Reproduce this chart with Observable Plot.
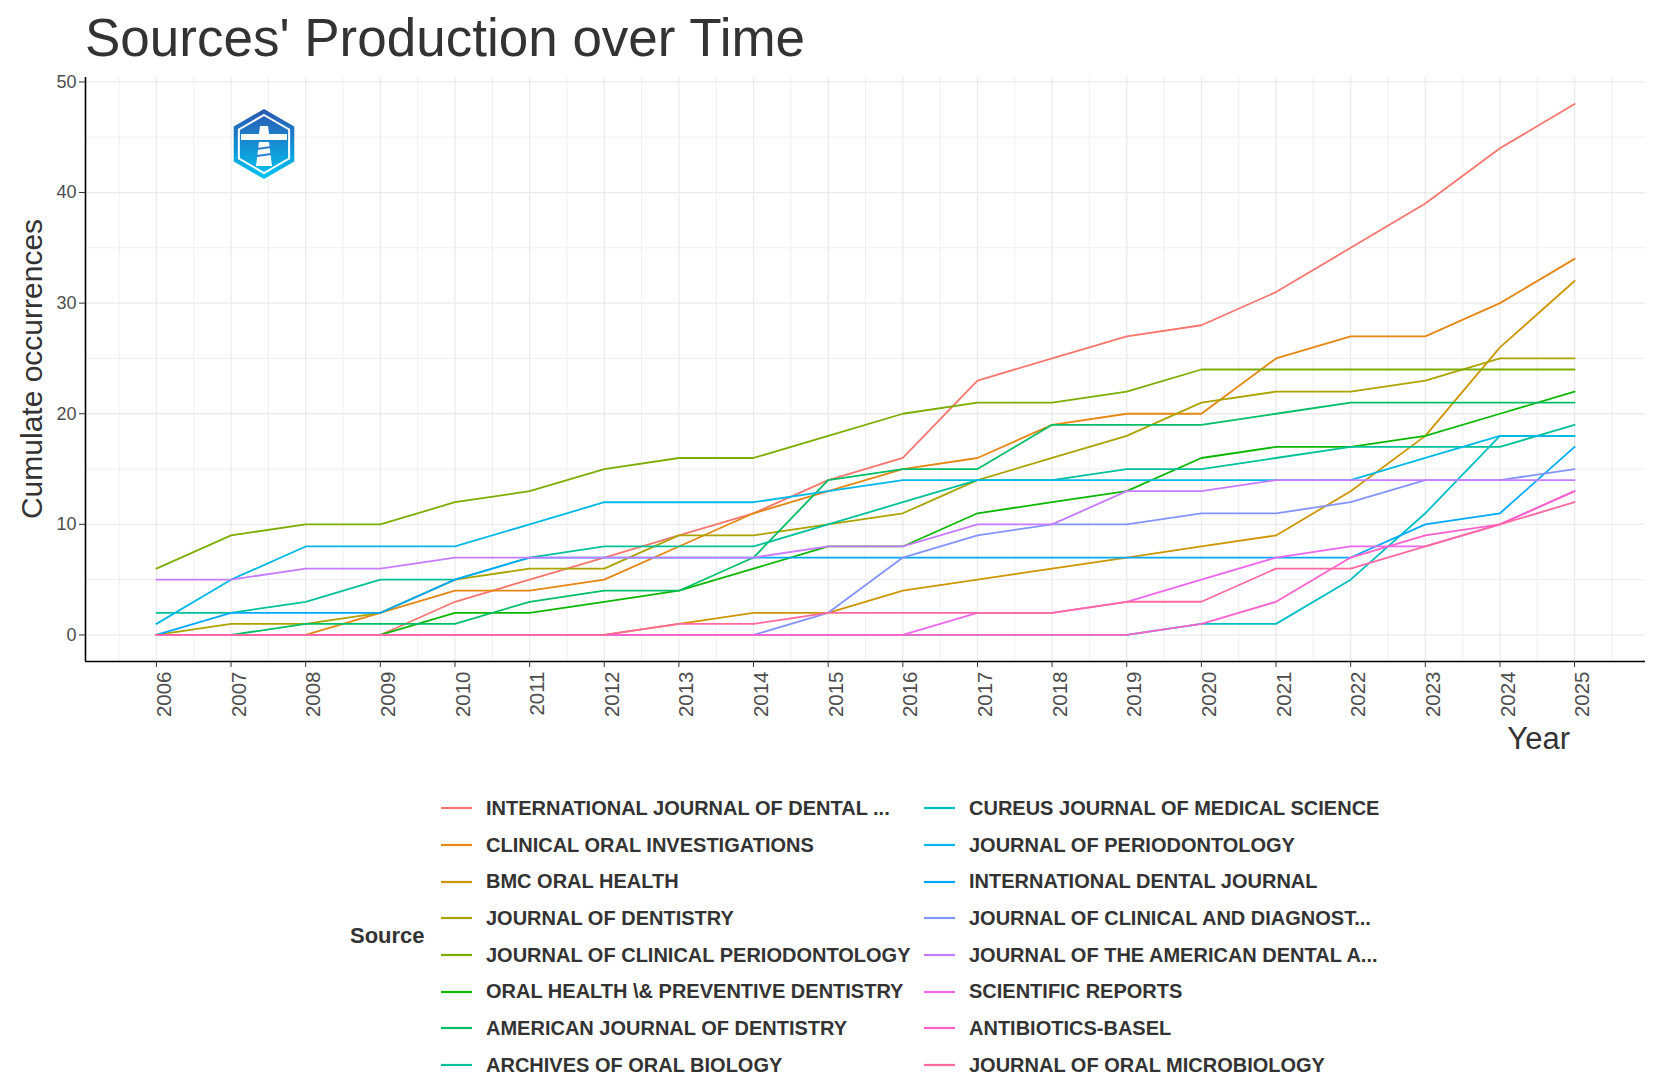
<!DOCTYPE html>
<html>
<head>
<meta charset="utf-8">
<script src="https://cdn.jsdelivr.net/npm/d3@7"></script>
<script src="https://cdn.jsdelivr.net/npm/@observablehq/plot@0.6"></script>
<style>
  html, body { margin: 0; padding: 0; background: #ffffff; }
  #page { position: relative; width: 1665px; height: 1090px; overflow: hidden; background: #fff;
          font-family: "Liberation Sans", Arial, "DejaVu Sans", sans-serif; }
  #chart { position: absolute; left: 0; top: 0; }
  #overlay { position: absolute; left: 0; top: 0; pointer-events: none; }
  #legendTitle { position: absolute; left: 350px; top: 923px; font-weight: bold; font-size: 22px; color: #333; }
  #legend { position: absolute; left: 441px; top: 790px; display: grid;
            grid-template-columns: 483px 483px; grid-template-rows: repeat(8, 36.7px);
            grid-auto-flow: column; }
  .item { display: flex; align-items: center; }
  .item svg { flex: none; }
  .item span { margin-left: 14px; font-weight: bold; font-size: 20px; color: #333; white-space: nowrap; }
</style>
</head>
<body>
<div id="page">
  <div id="chart"></div>
  <svg id="overlay" width="1665" height="1090"></svg>
  <div id="legendTitle">Source</div>
  <div id="legend"></div>
</div>
<script>
// ---- data ----
const years = [2006, 2007, 2008, 2009, 2010, 2011, 2012, 2013, 2014, 2015,
               2016, 2017, 2018, 2019, 2020, 2021, 2022, 2023, 2024, 2025];

const sources = [
  "INTERNATIONAL JOURNAL OF DENTAL ...",
  "CLINICAL ORAL INVESTIGATIONS",
  "BMC ORAL HEALTH",
  "JOURNAL OF DENTISTRY",
  "JOURNAL OF CLINICAL PERIODONTOLOGY",
  "ORAL HEALTH \\& PREVENTIVE DENTISTRY",
  "AMERICAN JOURNAL OF DENTISTRY",
  "ARCHIVES OF ORAL BIOLOGY",
  "CUREUS JOURNAL OF MEDICAL SCIENCE",
  "JOURNAL OF PERIODONTOLOGY",
  "INTERNATIONAL DENTAL JOURNAL",
  "JOURNAL OF CLINICAL AND DIAGNOST...",
  "JOURNAL OF THE AMERICAN DENTAL A...",
  "SCIENTIFIC REPORTS",
  "ANTIBIOTICS-BASEL",
  "JOURNAL OF ORAL MICROBIOLOGY"
];

const colors = ["#F8766D", "#E68613", "#CD9600", "#ABA300", "#7CAE00", "#0CB702",
                "#00BE67", "#00C19A", "#00BFC4", "#00B8E7", "#00A9FF", "#8494FF",
                "#C77CFF", "#ED68ED", "#FF61CC", "#FF68A1"];

const intlJDental   = [0, 0, 0, 0, 3, 5, 7, 9, 11, 14, 16, 23, 25, 27, 28, 31, 35, 39, 44, 48];
const clinOralInv   = [0, 0, 0, 2, 4, 4, 5, 8, 11, 13, 15, 16, 19, 20, 20, 25, 27, 27, 30, 34];
const bmcOralHealth = [0, 0, 0, 0, 0, 0, 0, 1, 2, 2, 4, 5, 6, 7, 8, 9, 13, 18, 26, 32];
const jDentistry    = [0, 1, 1, 2, 5, 6, 6, 9, 9, 10, 11, 14, 16, 18, 21, 22, 22, 23, 25, 25];
const jClinPerio    = [6, 9, 10, 10, 12, 13, 15, 16, 16, 18, 20, 21, 21, 22, 24, 24, 24, 24, 24, 24];
const oralHealthPD  = [0, 0, 0, 0, 2, 2, 3, 4, 6, 8, 8, 11, 12, 13, 16, 17, 17, 18, 20, 22];
const amJDentistry  = [0, 0, 1, 1, 1, 3, 4, 4, 7, 14, 15, 15, 19, 19, 19, 20, 21, 21, 21, 21];
const archOralBiol  = [2, 2, 3, 5, 5, 7, 8, 8, 8, 10, 12, 14, 14, 15, 15, 16, 17, 17, 17, 19];
const cureus        = [0, 0, 0, 0, 0, 0, 0, 0, 0, 0, 0, 0, 0, 0, 1, 1, 5, 11, 18, 18];
const jPeriodont    = [1, 5, 8, 8, 8, 10, 12, 12, 12, 13, 14, 14, 14, 14, 14, 14, 14, 16, 18, 18];
const intlDentalJ   = [0, 2, 2, 2, 5, 7, 7, 7, 7, 7, 7, 7, 7, 7, 7, 7, 7, 10, 11, 17];
const jClinDiag     = [0, 0, 0, 0, 0, 0, 0, 0, 0, 2, 7, 9, 10, 10, 11, 11, 12, 14, 14, 15];
const jAmDentAssoc  = [5, 5, 6, 6, 7, 7, 7, 7, 7, 8, 8, 10, 10, 13, 13, 14, 14, 14, 14, 14];
const sciReports    = [0, 0, 0, 0, 0, 0, 0, 0, 0, 0, 0, 2, 2, 3, 5, 7, 8, 8, 10, 13];
const antibiotics   = [0, 0, 0, 0, 0, 0, 0, 0, 0, 0, 0, 0, 0, 0, 1, 3, 7, 9, 10, 13];
const jOralMicro    = [0, 0, 0, 0, 0, 0, 0, 1, 1, 2, 2, 2, 2, 3, 3, 6, 6, 8, 10, 12];

const seriesValues = [intlJDental, clinOralInv, bmcOralHealth, jDentistry, jClinPerio,
  oralHealthPD, amJDentistry, archOralBiol, cureus, jPeriodont, intlDentalJ, jClinDiag,
  jAmDentAssoc, sciReports, antibiotics, jOralMicro];

const yTicks = [0, 10, 20, 30, 40, 50];

// ---- tidy table ----
const rows = [];
sources.forEach((s, i) => years.forEach((yr, j) => rows.push({source: s, year: yr, value: seriesValues[i][j]})));

const xDomain = [2006 - 0.05 * 19, 2025 + 0.05 * 19];
const yDomain = [0 - 0.05 * 48, 48 + 0.05 * 48];
const minorX = d3.range(2005.5, 2026, 1);
const majorY = d3.range(0, 51, 10);
const minorY = d3.range(5, 50, 10);

const plot = Plot.plot({
  width: 1665,
  height: 770,
  marginTop: 77,
  marginLeft: 85,
  marginRight: 20,
  marginBottom: 109,
  style: {fontFamily: '"Liberation Sans", Arial, sans-serif', background: "#fff"},
  x: {domain: xDomain, label: null},
  y: {domain: yDomain, label: null},
  color: {domain: sources, range: colors},
  marks: [
    Plot.gridX(minorX, {stroke: "#EBEBEB", strokeOpacity: 1, strokeWidth: 0.8}),
    Plot.gridX(years, {stroke: "#EBEBEB", strokeOpacity: 1, strokeWidth: 1.3}),
    Plot.gridY(minorY, {stroke: "#EBEBEB", strokeOpacity: 1, strokeWidth: 0.8}),
    Plot.gridY(majorY, {stroke: "#EBEBEB", strokeOpacity: 1, strokeWidth: 1.3}),
    Plot.line(rows, {x: "year", y: "value", z: "source", stroke: "source", strokeWidth: 1.8}),
    Plot.ruleX([xDomain[0]], {stroke: "#000", strokeWidth: 1.6}),
    Plot.ruleY([yDomain[0]], {stroke: "#000", strokeWidth: 1.6}),
    Plot.axisY(yTicks, {anchor: "left", tickSize: 6, tickPadding: 3, fontSize: 18,
      stroke: "#333", fill: "#4D4D4D", tickFormat: d => String(d), label: null}),
    Plot.axisX(years, {anchor: "bottom", tickSize: 6, tickPadding: 4, fontSize: 20.5,
      tickRotate: -90, stroke: "#333", fill: "#4D4D4D", tickFormat: d => String(d), label: null,
      text: null}),
    Plot.axisX(years, {anchor: "bottom", tickSize: 6, tickPadding: 4, fontSize: 20.5,
      tickRotate: -90, stroke: "none", fill: "#4D4D4D", tickFormat: d => String(d), label: null,
      dx: 8})
  ]
});
document.getElementById("chart").appendChild(plot);

// ---- overlay texts and logo ----
const ov = d3.select("#overlay");
ov.append("text").attr("x", 85).attr("y", 56).attr("font-size", 53).attr("fill", "#333")
  .attr("font-family", '"Liberation Sans", Arial, sans-serif').text("Sources' Production over Time");
ov.append("text").attr("transform", "translate(42,369) rotate(-90)").attr("text-anchor", "middle")
  .attr("font-size", 30).attr("fill", "#333").attr("font-family", '"Liberation Sans", Arial, sans-serif')
  .text("Cumulate occurrences");
ov.append("text").attr("x", 1570).attr("y", 749).attr("text-anchor", "end")
  .attr("font-size", 31).attr("fill", "#333").attr("font-family", '"Liberation Sans", Arial, sans-serif')
  .text("Year");

// logo (decorative)
const defs = ov.append("defs");
const grad = defs.append("linearGradient").attr("id", "lg").attr("x1", 0).attr("y1", 0).attr("x2", 0).attr("y2", 1);
grad.append("stop").attr("offset", "0%").attr("stop-color", "#2D55B0");
grad.append("stop").attr("offset", "100%").attr("stop-color", "#00C6F2");
const hex = (cx, cy, r) => d3.range(6).map(k => {
  const a = Math.PI / 180 * (60 * k - 90);
  return [cx + r * Math.cos(a), cy + r * Math.sin(a)];
});
const logo = ov.append("g");
logo.append("polygon").attr("points", hex(264, 144, 35).join(" ")).attr("fill", "url(#lg)");
logo.append("polygon").attr("points", hex(264, 144, 29).join(" ")).attr("fill", "none")
  .attr("stroke", "#fff").attr("stroke-width", 2);
logo.append("rect").attr("x", 241).attr("y", 134).attr("width", 46).attr("height", 6).attr("fill", "#fff");
logo.append("path").attr("d", "M260,126 L268,126 L269,134 L259,134 Z").attr("fill", "#fff");
logo.append("path").attr("d", "M259,142 L269,142 L272,166 L256,166 Z").attr("fill", "#fff");
logo.append("path").attr("d", "M257,149 L271,147 M257,156 L271,154").attr("stroke", "#2a7fd0").attr("stroke-width", 2);

// ---- legend ----
const legend = d3.select("#legend");
sources.forEach((s, i) => {
  const it = legend.append("div").attr("class", "item");
  const sv = it.append("svg").attr("width", 31).attr("height", 6);
  sv.append("line").attr("x1", 0).attr("x2", 31).attr("y1", 3).attr("y2", 3)
    .attr("stroke", colors[i]).attr("stroke-width", 2.2);
  it.append("span").text(s);
});
</script>
</body>
</html>
